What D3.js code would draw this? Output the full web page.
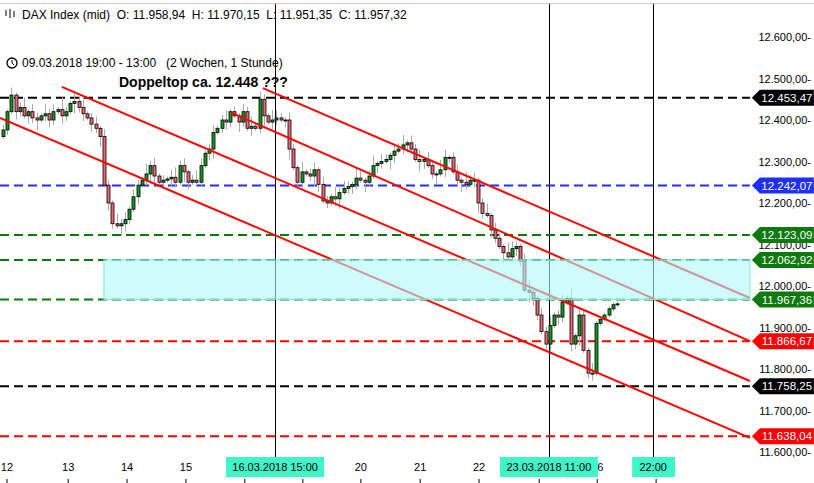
<!DOCTYPE html>
<html><head><meta charset="utf-8">
<script src="https://cdn.jsdelivr.net/npm/d3@7/dist/d3.min.js"></script>
<style>body{margin:0;background:#fff}svg{display:block;font-family:Arial,"Liberation Sans",sans-serif}</style>
</head><body><svg id="c" width="814" height="483"></svg>
<script>
// hourly closes (open = previous close)
const closes=[12376,12420,12460,12420,12430,12410,12420,12405,12400,12410,12415,12400,12420,12425,12410,12420,12440,12445,12430,12415,12405,12390,12380,12360,
12243,12200,12150,12145,12150,12160,
12185,12215,12243,12255,12270,12290,12265,12250,12255,12258,12262,12250,12290,12275,12250,12255,12250,12290,12320,12330,12370,12380,12400,12395,12420,12410,12395,12420,12380,12385,
12380,12450,
12410,12395,12400,12405,12400,12400,12330,12285,12250,12275,12270,12265,12280,12245,12205,12200,12215,12210,12225,12235,12240,12245,12260,12255,12250,12265,12290,12295,12300,12305,12315,12325,12330,12340,12345,12330,12305,12300,12305,12290,12270,12270,12280,12310,12310,12275,12255,12250,12245,12255,12255,12200,12175,12170,12135,12115,12095,12080,12070,12090,12095,12060,11990,11985,11970,11930,11890,11860,11905,11930,11925,11960,11970,11860,11880,11930,11845,11790,11790,11910,11920,11930,11945,11955,11957];
const firstOpen=12360;
// wick extensions beyond body, units of 6 points
const wickHi="2131241321423152132412313214231321423121342312431231241213241321432132141231321423214312413213241324132143123142312413214321342132412314132141";
const wickLo="1213213241232132142313241321432131243121321431221341232142131241321341231243121341232142132143123214312413213421342132141232143212413213241231";
const levels=[{v:12453.47,c:"#000000",t:"12.453,47"},{v:12242.07,c:"#1f2fff",t:"12.242,07"},{v:12123.09,c:"#0b7a0b",t:"12.123,09"},{v:12062.92,c:"#0b7a0b",t:"12.062,92"},{v:11967.36,c:"#0b7a0b",t:"11.967,36"},{v:11866.67,c:"#ff0000",t:"11.866,67"},{v:11758.25,c:"#000000",t:"11.758,25"},{v:11638.04,c:"#ff0000",t:"11.638,04"}];
const yTicks=[12600,12500,12400,12300,12200,12100,12000,11900,11800,11700,11600];
const yTickLabels=["12.600,00-","12.500,00-","12.400,00-","12.300,00-","12.200,00-","12.100,00-","12.000,00-","11.900,00-","11.800,00-","11.700,00-","11.600,00-"];
const dayTicks=[0.95,15.5,29.5,43.5,85.1,99.2,113.2,141.3];
const dayLabels=["12","13","14","15","20","21","22","26"];
const tickMarks=[0.95,15.5,29.5,43.5,57.5,71.3,85.1,99.2,113.2,127.5,141.3,155.3];
const trendLines=[[[-0.7,12405],[177.6,11634]],[[14.0,12480],[177.6,11771]],[[54.0,12419],[177.6,11867]],[[61.8,12477],[177.6,11971]]];
const vLines=[{i:64.7,t:"16.03.2018 15:00"},{i:129.8,t:"23.03.2018 11:00"},{i:154.6,t:"22:00"}];
const zone={i0:24.0,i1:177.6,hi:12062.92,lo:11967.36};

const svg=d3.select("#c");
const x=d3.scaleLinear().domain([0,closes.length-1]).range([3,617]);
const y=d3.scaleLinear().domain([11600,12600]).range([452,37]);
const xEnd=x(177.6);

svg.append("line").attr("x1",0).attr("x2",814).attr("y1",3.5).attr("y2",3.5).attr("stroke","#ccc");
svg.selectAll(".vl").data(vLines).enter().append("line").attr("x1",d=>Math.round(x(d.i))+.5).attr("x2",d=>Math.round(x(d.i))+.5).attr("y1",4).attr("y2",458).attr("stroke","#000");
svg.selectAll(".lv").data(levels).enter().append("line").attr("x1",0).attr("x2",xEnd).attr("y1",d=>y(d.v)).attr("y2",d=>y(d.v)).attr("stroke",d=>d.c).attr("stroke-width",2).attr("stroke-dasharray","9,5");
const g=svg.append("g");
closes.forEach((c,i)=>{
 const o=i?closes[i-1]:firstOpen;
 const h=Math.max(o,c)+(+wickHi[i]||1)*6, l=Math.min(o,c)-(+wickLo[i]||1)*6;
 const cx=Math.round(x(i))+.5;
 g.append("line").attr("x1",cx).attr("x2",cx).attr("y1",y(h)).attr("y2",y(l)).attr("stroke","#aaa");
 const top=y(Math.max(o,c)),bh=Math.max(1,y(Math.min(o,c))-top);
 g.append("rect").attr("x",cx-1.5).attr("y",top).attr("width",3).attr("height",bh).attr("fill",c>=o?"#119922":"#ee6677").attr("stroke","#000").attr("stroke-width",0.8);
});
svg.selectAll(".tl").data(trendLines).enter().append("line").attr("x1",d=>x(d[0][0])).attr("y1",d=>y(d[0][1])).attr("x2",d=>x(d[1][0])).attr("y2",d=>y(d[1][1])).attr("stroke","#ff0000").attr("stroke-width",2);
svg.append("rect").attr("x",x(zone.i0)).attr("y",y(zone.hi)).attr("width",x(zone.i1)-x(zone.i0)).attr("height",y(zone.lo)-y(zone.hi)).attr("fill","rgba(175,250,250,0.6)").attr("stroke","#80e8d8");
svg.selectAll(".yt").data(yTicks).enter().append("text").attr("x",811).attr("y",d=>y(d)+4).attr("text-anchor","end").attr("font-size",11).text((d,i)=>yTickLabels[i]);
const lg=svg.selectAll(".ll").data(levels).enter().append("g").attr("transform",d=>`translate(${xEnd+2},${y(d.v)})`);
lg.append("path").attr("d","M0,0L8,-8H62V8H8Z").attr("fill",d=>d.c);
lg.append("text").attr("x",35).attr("y",4).attr("text-anchor","middle").attr("fill","#fff").attr("font-size",11.5).text(d=>d.t);
svg.selectAll(".dt").data(dayTicks).enter().append("text").attr("x",d=>x(d)).attr("y",471).attr("text-anchor","middle").attr("font-size",11).text((d,i)=>dayLabels[i]);
svg.selectAll(".dk").data(tickMarks).enter().append("line").attr("x1",d=>x(d)).attr("x2",d=>x(d)).attr("y1",479).attr("y2",483).attr("stroke","#000");
const vb=svg.selectAll(".vb").data(vLines).enter().append("g");
vb.append("rect").attr("x",d=>x(d.i)-(d.t.length>6?49:21)).attr("y",457).attr("width",d=>d.t.length>6?98:43).attr("height",20).attr("fill","#40f5c8");
vb.append("text").attr("x",d=>x(d.i)).attr("y",471).attr("text-anchor","middle").attr("font-size",11).text(d=>d.t);
svg.append("text").attr("x",22).attr("y",19).attr("font-size",12).style("white-space","pre").text("DAX Index (mid)  O: 11.958,94  H: 11.970,15  L: 11.951,35  C: 11.957,32");
const ic=svg.append("g").attr("stroke","#000").attr("fill","none");
[[6,10,16],[10,9,18],[14,11,17]].forEach(a=>{ic.append("line").attr("x1",a[0]).attr("x2",a[0]).attr("y1",a[1]).attr("y2",a[2]);});
svg.append("circle").attr("cx",12).attr("cy",63).attr("r",5).attr("fill","none").attr("stroke","#000").attr("stroke-width",1.3);
svg.append("path").attr("d","M12,60V63L14,65").attr("fill","none").attr("stroke","#000");
svg.append("text").attr("x",22).attr("y",67).attr("font-size",12).style("white-space","pre").text("09.03.2018 19:00 - 13:00   (2 Wochen, 1 Stunde)");
svg.append("text").attr("x",119).attr("y",87).attr("font-size",14).attr("font-weight","bold").text("Doppeltop ca. 12.448 ???");
</script></body></html>
